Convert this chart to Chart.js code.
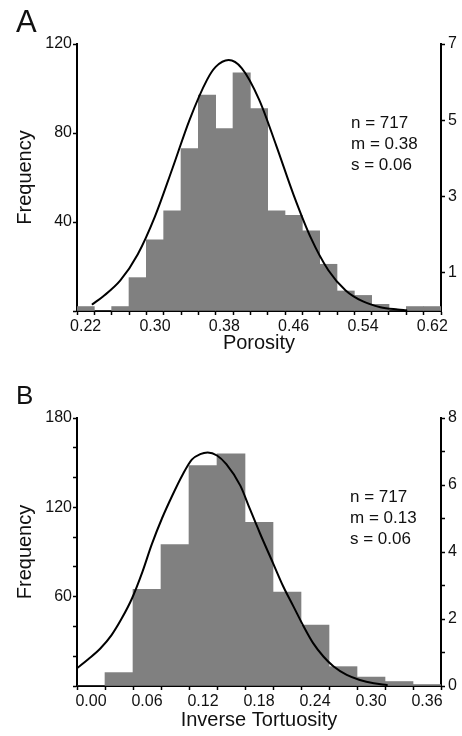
<!DOCTYPE html>
<html><head><meta charset="utf-8">
<script src="https://cdn.jsdelivr.net/npm/chart.js@4/dist/chart.umd.min.js"></script>
<style>
html,body{margin:0;padding:0;background:#fff;}
body{width:462px;height:736px;position:relative;overflow:hidden;font-family:"Liberation Sans",Arial,sans-serif;color:#111;}
canvas{position:absolute;left:0;}
#cA{top:0}
#cB{top:368px}
.lbl{position:absolute;line-height:1;}
.stats{position:absolute;font-size:17px;line-height:21px;white-space:nowrap;}
</style></head>
<body>
<canvas id="cA" width="462" height="368"></canvas>
<canvas id="cB" width="462" height="368"></canvas>
<div class="lbl" style="left:16px;top:6px;font-size:31px">A</div>
<div class="lbl" style="left:16px;top:381.6px;font-size:26px">B</div>
<div class="stats" id="sA" style="left:351px;top:112px"></div>
<div class="stats" id="sB" style="left:350px;top:486px"></div>
<script>
// ---------- Panel A: Porosity ----------
const porosityBins   = [0.22,0.24,0.26,0.28,0.30,0.32,0.34,0.36,0.38,0.40,0.42,0.44,0.46,0.48,0.50,0.52,0.54,0.56,0.58,0.60,0.62];
const porosityCounts = [2,0,2,15,32,45,73,97,82,107,91,45,43,36,21,9,7,3,0,2,2];
const porosityCurveX = [0.228,0.24,0.26,0.28,0.30,0.32,0.34,0.36,0.37,0.385,0.40,0.42,0.44,0.46,0.48,0.50,0.52,0.54,0.56,0.58,0.59];
const porosityCurveY = [0.18,0.38,0.80,1.48,2.48,3.73,5.02,6.06,6.40,6.58,6.37,5.55,4.33,3.04,1.91,1.07,0.54,0.25,0.10,0.04,0.02];
const porosityXLabels = ["0.22","0.30","0.38","0.46","0.54","0.62"];
const porosityFreqTicks = [0,40,80,120];
const porosityFreqLabels = [40,80,120];
const porosityDensTicks = [1,3,5,7];
const porosityDensLabels = [1,3,5,7];
const porosityStats = ["n = 717","m = 0.38","s = 0.06"];

// ---------- Panel B: Inverse Tortuosity ----------
const tortBins   = [0.00,0.03,0.06,0.09,0.12,0.15,0.18,0.21,0.24,0.27,0.30,0.33,0.36];
const tortCounts = [0,9,65,95,148,156,110,63,41,13,6,3,1];
const tortCurveX = [-0.015,-0.003,0.010,0.022,0.033,0.044,0.055,0.065,0.076,0.087,0.098,0.108,0.117,0.125,0.135,0.145,0.160,0.170,0.181,0.195,0.206,0.217,0.228,0.238,0.249,0.260,0.274,0.288,0.303,0.317];
const tortCurveY = [0.53,0.80,1.12,1.52,2.02,2.62,3.40,4.22,5.00,5.68,6.30,6.76,6.92,6.97,6.88,6.62,5.98,5.30,4.56,3.67,2.97,2.37,1.77,1.28,0.88,0.58,0.33,0.18,0.08,0.03];
const tortXLabels = ["0.00","0.06","0.12","0.18","0.24","0.30","0.36"];
const tortFreqTicks = [0,20,40,60,80,100,120,140,160,180];
const tortFreqLabels = [60,120,180];
const tortDensTicks = [0,1,2,3,4,5,6,7,8];
const tortDensLabels = [0,2,4,6,8];
const tortStats = ["n = 717","m = 0.13","s = 0.06"];

const F = '"Liberation Sans", Arial, sans-serif';
const INK = '#111';

function makeChart(id, o) {
  const w = o.bins[1] - o.bins[0];
  const xMin = o.bins[0] - w / 2, xMax = o.bins[o.bins.length - 1] + w / 2;
  const xTicks = [];
  o.bins.forEach(c => { xTicks.push(c - w / 2); xTicks.push(c); });
  xTicks.push(xMax);
  return new Chart(document.getElementById(id), {
    type: 'bar',
    data: { datasets: [
      { type: 'line', data: o.curveX.map((x, i) => ({ x, y: o.curveY[i] })), yAxisID: 'y2', xAxisID: 'x',
        borderColor: '#000', borderWidth: 2, pointRadius: 0, cubicInterpolationMode: 'monotone',
        fill: false, order: 0, borderCapStyle: 'round' },
      { type: 'bar', data: o.bins.map((x, i) => ({ x, y: o.counts[i] })), yAxisID: 'y', xAxisID: 'x',
        backgroundColor: '#808080', borderWidth: 0, barThickness: 'flex', barPercentage: 1, categoryPercentage: 1, order: 1 }
    ]},
    options: {
      responsive: false, animation: false, devicePixelRatio: 1,
      layout: { padding: { top: o.padTop, left: 0, right: 0, bottom: 0 } },
      plugins: { legend: { display: false }, tooltip: { enabled: false } },
      scales: {
        x: { type: 'linear', min: xMin, max: xMax, offset: false,
          afterBuildTicks: s => { s.ticks = xTicks.map(v => ({ value: v })); },
          afterFit: s => { s.height = o.xHeight; },
          ticks: { autoSkip: false, maxRotation: 0, padding: 2, font: { size: 16, family: F }, color: INK,
            callback: (v, i) => (i % 2 === 1 && o.xLabels.includes(Number(v).toFixed(2))) ? Number(v).toFixed(2) : '' },
          grid: { offset: false, drawOnChartArea: false, drawTicks: true, tickLength: 4, tickWidth: 1.5,
            tickColor: ctx => (ctx.index % 2 === 0) ? '#000' : 'rgba(0,0,0,0)' },
          border: { display: true, color: '#000', width: 2 },
          title: { display: true, text: o.xTitle, font: { size: 20, family: F }, color: INK, padding: { top: 0, bottom: o.xTitlePad } }
        },
        y: { type: 'linear', position: 'left', min: 0, max: o.yMax,
          afterBuildTicks: s => { s.ticks = o.yTicks.map(v => ({ value: v })); },
          afterFit: s => { s.width = 77; },
          ticks: { padding: 1, font: { size: 16, family: F }, color: INK,
            callback: v => o.yLabels.includes(v) ? String(v) : '' },
          grid: { drawOnChartArea: false, tickLength: 4, tickColor: '#000', tickWidth: 1.5 },
          border: { display: true, color: '#000', width: 2 },
          title: { display: true, text: 'Frequency', font: { size: 20, family: F }, color: INK, padding: { top: 13, bottom: 0 } }
        },
        y2: { type: 'linear', position: 'right', min: 0, max: o.y2Max,
          afterBuildTicks: s => { s.ticks = o.y2Ticks.map(v => ({ value: v })); },
          afterFit: s => { s.width = 21; },
          ticks: { padding: 3, font: { size: 16, family: F }, color: INK,
            callback: v => o.y2Labels.includes(v) ? String(v) : '' },
          grid: { drawOnChartArea: false, tickLength: 4, tickColor: '#000', tickWidth: 1.5 },
          border: { display: true, color: '#000', width: 2 }
        }
      }
    }
  });
}

makeChart('cA', { bins: porosityBins, counts: porosityCounts, curveX: porosityCurveX, curveY: porosityCurveY,
  xLabels: porosityXLabels, xTitle: 'Porosity', yMax: 120, yTicks: porosityFreqTicks, yLabels: porosityFreqLabels,
  y2Max: 7, y2Ticks: porosityDensTicks, y2Labels: porosityDensLabels, padTop: 44, xHeight: 57, xTitlePad: 13 });
makeChart('cB', { bins: tortBins, counts: tortCounts, curveX: tortCurveX, curveY: tortCurveY,
  xLabels: tortXLabels, xTitle: 'Inverse Tortuosity', yMax: 180, yTicks: tortFreqTicks, yLabels: tortFreqLabels,
  y2Max: 8, y2Ticks: tortDensTicks, y2Labels: tortDensLabels, padTop: 50, xHeight: 50, xTitlePad: 4 });

document.getElementById('sA').innerHTML = porosityStats.join('<br>');
document.getElementById('sB').innerHTML = tortStats.join('<br>');
</script>
</body></html>
